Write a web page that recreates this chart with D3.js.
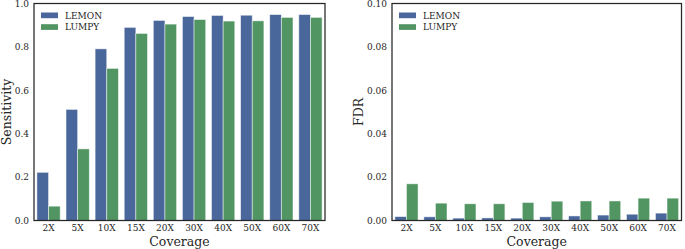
<!DOCTYPE html>
<html>
<head>
<meta charset="utf-8">
<script src="https://cdn.jsdelivr.net/npm/d3@7"></script>
<style>
  body { margin: 0; background: #fff; }
  svg text { font-family: "DejaVu Serif", serif; fill: #262626; }
</style>
</head>
<body>
<div id="chart"></div>
<script>
var coverage = ["2X", "5X", "10X", "15X", "20X", "30X", "40X", "50X", "60X", "70X"];
var series = ["LEMON", "LUMPY"];
var colors = ["#4A679C", "#509562"];

var sensLemon = [0.222, 0.512, 0.791, 0.890, 0.922, 0.940, 0.945, 0.946, 0.949, 0.949];
var sensLumpy = [0.066, 0.330, 0.701, 0.862, 0.905, 0.926, 0.919, 0.920, 0.936, 0.936];
var fdrLemon = [0.0018, 0.0017, 0.0011, 0.0012, 0.0011, 0.0017, 0.0021, 0.0025, 0.0029, 0.0034];
var fdrLumpy = [0.0169, 0.0080, 0.0077, 0.0077, 0.0083, 0.0089, 0.0090, 0.0090, 0.0103, 0.0103];

var sensTicks = [0.0, 0.2, 0.4, 0.6, 0.8, 1.0];
var fdrTicks = [0.00, 0.02, 0.04, 0.06, 0.08, 0.10];

var svg = d3.select("#chart").append("svg")
    .attr("width", 685)
    .attr("height", 249);

function panel(left, right, top, bottom, vals, yMax, ticks, fmt, yLabel, labelX) {
    var g = svg.append("g");
    var x = d3.scaleBand().domain(coverage).range([left, right]).paddingInner(0.2).paddingOuter(0.1);
    var y = d3.scaleLinear().domain([0, yMax]).range([bottom, top]);
    var xs = d3.scaleBand().domain(series).range([0, x.bandwidth()]);

    // bars
    series.forEach(function(s, si) {
        g.selectAll(null)
            .data(vals[si])
            .enter().append("rect")
            .attr("x", function(d, i) { return x(coverage[i]) + xs(s); })
            .attr("y", function(d) { return y(d); })
            .attr("width", xs.bandwidth())
            .attr("height", function(d) { return bottom - y(d); })
            .attr("fill", colors[si])
            .attr("stroke", "#ffffff")
            .attr("stroke-opacity", 0.6)
            .attr("stroke-width", 0.8);
    });

    // y tick labels
    var ya = d3.axisLeft(y).tickValues(ticks).tickFormat(fmt).tickSize(0).tickPadding(5);
    g.append("g").attr("transform", "translate(" + left + ",0)").call(ya)
        .call(function(a) { a.select(".domain").remove(); })
        .selectAll("text").attr("font-size", 9).attr("font-family", "DejaVu Serif");

    var xa = d3.axisBottom(x).tickSize(0).tickPadding(4);
    g.append("g").attr("transform", "translate(0," + bottom + ")").call(xa)
        .call(function(a) { a.select(".domain").remove(); })
        .selectAll("text").attr("font-size", 9).attr("font-family", "DejaVu Serif");

    // frame
    g.append("rect")
        .attr("x", left).attr("y", top)
        .attr("width", right - left).attr("height", bottom - top)
        .attr("fill", "none").attr("stroke", "#262626").attr("stroke-width", 1.25);

    g.append("text")
        .attr("x", (left + right) / 2).attr("y", 245.5)
        .attr("text-anchor", "middle").attr("font-size", 12.5)
        .text("Coverage");

    g.append("text")
        .attr("transform", "translate(" + labelX + "," + ((top + bottom) / 2) + ") rotate(-90)")
        .attr("text-anchor", "middle").attr("font-size", 12.5)
        .text(yLabel);

    // legend
    series.forEach(function(s, si) {
        g.append("rect")
            .attr("x", left + 7).attr("y", top + 9 + si * 11.7)
            .attr("width", 17).attr("height", 5.7)
            .attr("fill", colors[si]);
        g.append("text")
            .attr("x", left + 31).attr("y", top + 15 + si * 11.7)
            .attr("font-size", 9)
            .text(s);
    });
}

panel(34, 325, 3.5, 220.5, [sensLemon, sensLumpy], 1.0, sensTicks, d3.format(".1f"), "Sensitivity", 11);
panel(392, 681.5, 3.5, 220.5, [fdrLemon, fdrLumpy], 0.10, fdrTicks, d3.format(".2f"), "FDR", 363);
</script>
</body>
</html>
